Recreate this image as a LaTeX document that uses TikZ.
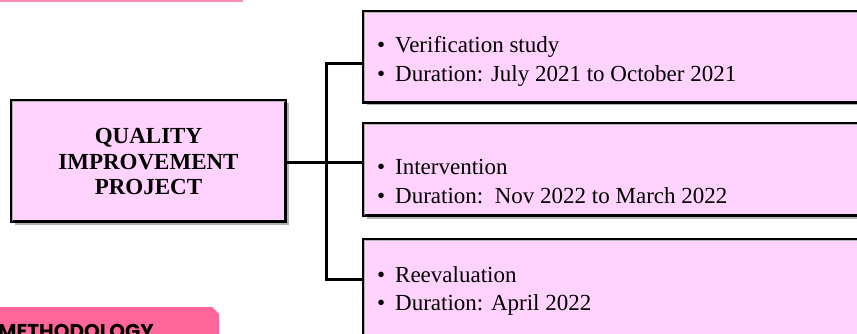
\documentclass[tikz,border=0pt]{standalone}
\usepackage{fontspec}
\setmainfont{Liberation Serif}
\newfontfamily\tabfont{Poppins}
\usetikzlibrary{shadows}
\definecolor{boxpink}{HTML}{FFD3FE}
\definecolor{tabpink}{HTML}{FF6699}
\definecolor{linepink}{HTML}{FF8CB4}
\begin{document}
\begin{tikzpicture}[x=1pt,y=-1pt,
  box/.style={draw=black, line width=3pt, fill=boxpink, inner sep=0,
    drop shadow={shadow xshift=3pt, shadow yshift=-3pt, opacity=0.3, fill=black}},
  wire/.style={line width=3pt, draw=black},
  txt/.style={anchor=base west, inner sep=0, font=\fontsize{23}{28}\selectfont},
  head/.style={anchor=base, inner sep=0, font=\bfseries\fontsize{23}{25}\selectfont},
  hilite/.style={draw=white, line width=1.2pt, opacity=0.7}]
\useasboundingbox (0,0) rectangle (857,334);
\clip (0,0) rectangle (857,334);
% decorations of the slide
\fill[linepink] (0,0) rectangle (243,1.8);
\fill[tabpink] (0,307) -- (212,307) -- (219,314) -- (219,345) -- (0,345) -- cycle;
\node[anchor=base west, inner sep=0, font=\tabfont\bfseries\fontsize{20}{20}\selectfont] (meth) at (-2,338) {METHODOLOGY};
% boxes
\node[box, minimum width=274pt, minimum height=121pt] (qip) at (148.5,161) {};
\node[box, minimum width=516.5pt, minimum height=91pt] (b1) at (621.75,57) {};
\node[box, minimum width=516.5pt, minimum height=92pt] (b2) at (621.75,169.5) {};
\node[box, minimum width=516.5pt, minimum height=110.5pt] (b3) at (621.75,294.75) {};
\foreach \b in {qip,b1,b2,b3}{
  \draw[hilite] ([shift={(2.5pt,2.5pt)}]\b.south west) |- ([shift={(-2.5pt,-2.5pt)}]\b.north east);
}
% connectors
\coordinate (jn) at (326,163);
\coordinate (top) at (326,64);
\coordinate (bot) at (326,279);
\draw[wire] (qip.east |- jn) -- (jn -| b2.west);
\draw[wire] (top -| b1.west) -- (top) -- (bot) -- (bot -| b3.west);
% texts
\node[head] (q1) at (148.5,144) {QUALITY};
\node[head] (q2) at (148.5,169) {IMPROVEMENT};
\node[head] (q3) at (148.5,194) {PROJECT};
\node[txt] (t11) at (377,53) {\makebox[18pt][l]{•}Verification study};
\node[txt] (t12) at (377,82) {\makebox[18pt][l]{•}Duration: July 2021 to October 2021};
\node[txt] (t21) at (377,175) {\makebox[18pt][l]{•}Intervention};
\node[txt] (t22) at (377,204) {\makebox[18pt][l]{•}Duration:\ \ Nov 2022 to March 2022};
\node[txt] (t31) at (377,282) {\makebox[18pt][l]{•}Reevaluation};
\node[txt] (t32) at (377,310) {\makebox[18pt][l]{•}Duration: April 2022};
\end{tikzpicture}
\end{document}
